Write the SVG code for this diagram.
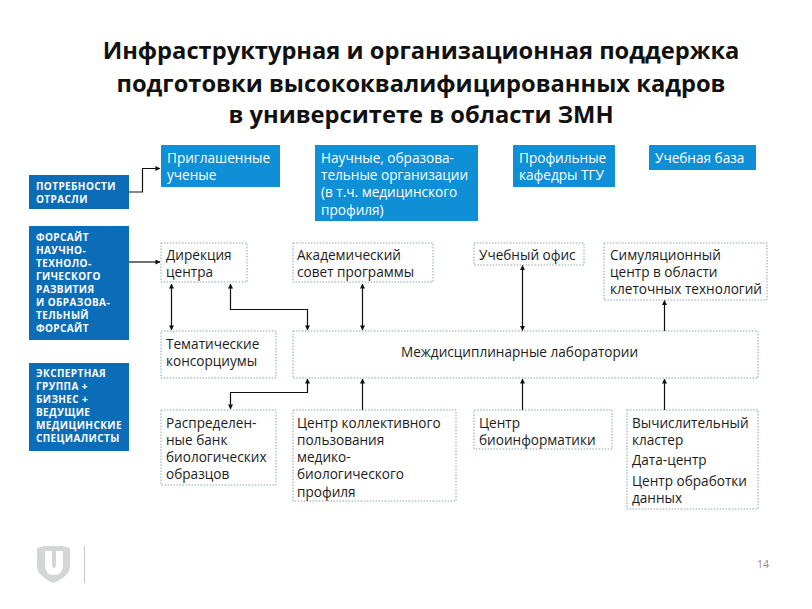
<svg xmlns="http://www.w3.org/2000/svg" width="812" height="609" viewBox="0 0 812 609">
<style>
text{font-family:"Open Sans","Liberation Sans",sans-serif}
.t{font-size:23.7px;font-weight:700;fill:#111;text-anchor:middle}
.side{fill:#0b6db7}.top{fill:#0f8fd6}
.sl{font-size:10px;font-weight:700;fill:#fff;letter-spacing:.4px}
.tl{font-size:13.6px;fill:#fff}
.dl{font-size:13.6px;fill:#1c1c1c}
.d{fill:#fff;stroke:#8ba5ae;stroke-width:1;stroke-dasharray:1.5 1.5}
.c{fill:none;stroke:#111;stroke-width:1.2}
</style>
<defs>
<marker id="a" viewBox="0 0 6 6" refX="5.5" refY="3" markerWidth="5" markerHeight="5" orient="auto-start-reverse" markerUnits="userSpaceOnUse"><path d="M0 0L6 3L0 6z" fill="#111"/></marker>
</defs>
<g id="title">
<text class="t" x="421" y="59">Инфраструктурная и организационная поддержка</text>
<text class="t" x="421" y="92">подготовки высококвалифицированных кадров</text>
<text class="t" x="421" y="123">в университете в области ЗМН</text>
</g>
<g id="side1"><rect class="side" x="29" y="175" width="100" height="34"/><text class="sl" x="36" y="190">ПОТРЕБНОСТИ</text><text class="sl" x="36" y="203">ОТРАСЛИ</text></g>
<g id="side2"><rect class="side" x="29" y="226" width="100" height="114"/>
<text class="sl" x="36" y="241">ФОРСАЙТ</text><text class="sl" x="36" y="254">НАУЧНО-</text><text class="sl" x="36" y="267">ТЕХНОЛО-</text><text class="sl" x="36" y="280">ГИЧЕСКОГО</text><text class="sl" x="36" y="293">РАЗВИТИЯ</text><text class="sl" x="36" y="306">И ОБРАЗОВА-</text><text class="sl" x="36" y="319">ТЕЛЬНЫЙ</text><text class="sl" x="36" y="332">ФОРСАЙТ</text></g>
<g id="side3"><rect class="side" x="29" y="363" width="100" height="88"/>
<text class="sl" x="36" y="377">ЭКСПЕРТНАЯ</text><text class="sl" x="36" y="390">ГРУППА +</text><text class="sl" x="36" y="403">БИЗНЕС +</text><text class="sl" x="36" y="416">ВЕДУЩИЕ</text><text class="sl" x="36" y="429">МЕДИЦИНСКИЕ</text><text class="sl" x="36" y="442">СПЕЦИАЛИСТЫ</text></g>
<g id="top1"><rect class="top" x="161" y="145" width="119" height="42"/><text class="tl" x="167" y="163">Приглашенные</text><text class="tl" x="167" y="180">ученые</text></g>
<g id="top2"><rect class="top" x="315" y="145" width="163" height="76"/><text class="tl" x="321" y="163">Научные, образова-</text><text class="tl" x="321" y="180">тельные организации</text><text class="tl" x="321" y="197">(в т.ч. медицинского</text><text class="tl" x="321" y="215">профиля)</text></g>
<g id="top3"><rect class="top" x="513" y="145" width="102" height="42"/><text class="tl" x="519" y="163">Профильные</text><text class="tl" x="519" y="180">кафедры ТГУ</text></g>
<g id="top4"><rect class="top" x="649" y="145" width="107" height="25"/><text class="tl" x="655" y="163">Учебная база</text></g>
<g id="n1"><rect class="d" x="161" y="243" width="86" height="39"/><text class="dl" x="166" y="260">Дирекция</text><text class="dl" x="166" y="277">центра</text></g>
<g id="n2"><rect class="d" x="293" y="243" width="140" height="39"/><text class="dl" x="297" y="260">Академический</text><text class="dl" x="297" y="277">совет программы</text></g>
<g id="n3"><rect class="d" x="474" y="243" width="110" height="22"/><text class="dl" x="479" y="260">Учебный офис</text></g>
<g id="n4"><rect class="d" x="604" y="243" width="163" height="57"/><text class="dl" x="610" y="260">Симуляционный</text><text class="dl" x="610" y="277">центр в области</text><text class="dl" x="610" y="294">клеточных технологий</text></g>
<g id="n5"><rect class="d" x="161" y="331" width="115" height="47"/><text class="dl" x="166" y="349">Тематические</text><text class="dl" x="166" y="366">консорциумы</text></g>
<g id="n6"><rect class="d" x="293" y="331" width="465" height="47"/><text class="dl" x="401" y="357">Междисциплинарные лаборатории</text></g>
<g id="n7"><rect class="d" x="161" y="410" width="115" height="75"/><text class="dl" x="166" y="428">Распределен-</text><text class="dl" x="166" y="445">ные банк</text><text class="dl" x="166" y="462">биологических</text><text class="dl" x="166" y="479">образцов</text></g>
<g id="n8"><rect class="d" x="293" y="410" width="163" height="91"/><text class="dl" x="297" y="428">Центр коллективного</text><text class="dl" x="297" y="445">пользования</text><text class="dl" x="297" y="462">медико-</text><text class="dl" x="297" y="479">биологического</text><text class="dl" x="297" y="497">профиля</text></g>
<g id="n9"><rect class="d" x="474" y="410" width="138" height="39"/><text class="dl" x="479" y="428">Центр</text><text class="dl" x="479" y="445">биоинформатики</text></g>
<g id="n10"><rect class="d" x="627" y="410" width="131" height="99"/><text class="dl" x="632" y="428">Вычислительный</text><text class="dl" x="632" y="445">кластер</text><text class="dl" x="632" y="465">Дата-центр</text><text class="dl" x="632" y="486">Центр обработки</text><text class="dl" x="632" y="503">данных</text></g>
<g id="connectors">
<path class="c" d="M129 192H142.500V168.500H160" marker-end="url(#a)"/>
<path class="c" d="M129 262H160" marker-end="url(#a)"/>
<path class="c" d="M171.500 284V330" marker-start="url(#a)" marker-end="url(#a)"/>
<path class="c" d="M230.500 284V309.500H307.500V330" marker-start="url(#a)" marker-end="url(#a)"/>
<path class="c" d="M362.500 284V330" marker-start="url(#a)" marker-end="url(#a)"/>
<path class="c" d="M522.500 265.500V330.500" marker-start="url(#a)" marker-end="url(#a)"/>
<path class="c" d="M664.500 331V300.500" marker-end="url(#a)"/>
<path class="c" d="M307.500 379V392.500H230.500V409" marker-start="url(#a)" marker-end="url(#a)"/>
<path class="c" d="M362.500 410V379" marker-end="url(#a)"/>
<path class="c" d="M522.500 410V379" marker-end="url(#a)"/>
<path class="c" d="M664.500 410V379" marker-end="url(#a)"/>
</g>
<g id="logo">
<path d="M37 548L44 546H53L62 546L70 548V566Q70 576 53.500 583Q37 576 37 566Z" fill="#d4d6d6"/>
<path d="M45 551H52V564Q52 568 54 568Q56 568 56 564V551H63V565Q63 575 54 575Q45 575 45 565Z" fill="#fff"/>
<path d="M84.500 546V583" stroke="#c8c8c8" stroke-width="1" fill="none"/>
</g>
<text id="page" x="757" y="568" font-size="10.500" fill="#8c8c8c">14</text>
</svg>
